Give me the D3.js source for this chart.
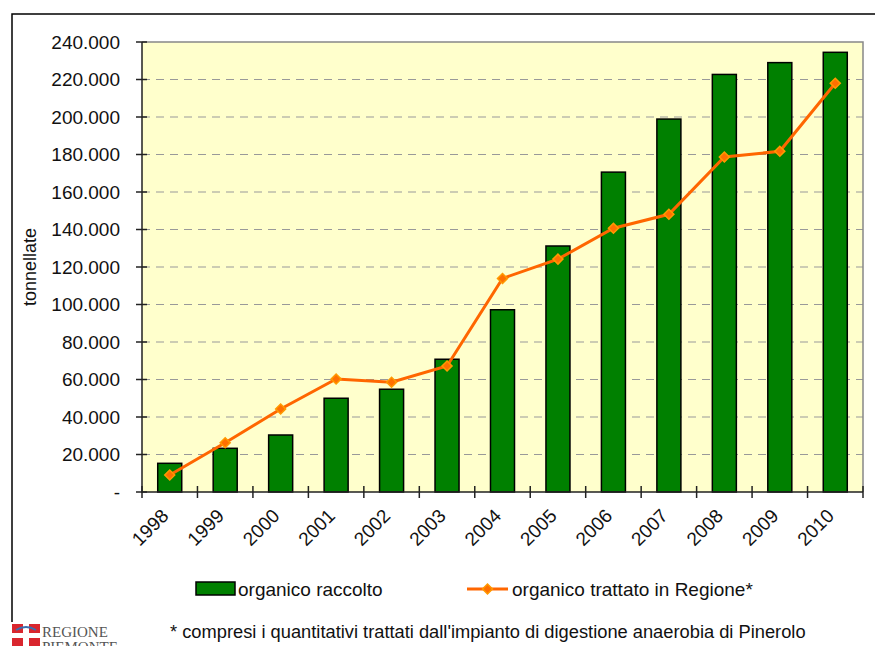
<!DOCTYPE html>
<html>
<head>
<meta charset="utf-8">
<script src="https://cdn.jsdelivr.net/npm/d3@7"></script>
<style>
  body { margin: 0; background: #fff; }
  svg { display: block; font-family: "Liberation Sans", Arial, sans-serif; }
</style>
</head>
<body>
<svg id="chart" width="875" height="646"></svg>
<script>
var years = ["1998", "1999", "2000", "2001", "2002", "2003", "2004", "2005", "2006", "2007", "2008", "2009", "2010"];
var raccolto = [15300, 23300, 30400, 50000, 54800, 70800, 97200, 131200, 170600, 198900, 222700, 229000, 234500];
var trattato = [9100, 26300, 44300, 60300, 58500, 67200, 113900, 124200, 140700, 148100, 178700, 181700, 218000];
var yTicks = [0, 20000, 40000, 60000, 80000, 100000, 120000, 140000, 160000, 180000, 200000, 220000, 240000];

var plotLeft = 142, plotRight = 863, plotTop = 42, plotBottom = 492;

var svg = d3.select("#chart");

var itLocale = d3.formatLocale({ decimal: ",", thousands: ".", grouping: [3], currency: ["", " €"] });
var fmt = itLocale.format(",");

var x = d3.scaleBand()
    .domain(years)
    .range([plotLeft, plotRight])
    .paddingInner(0.567)
    .paddingOuter(0.567 / 2);

var xStep = d3.scaleBand()
    .domain(years)
    .range([plotLeft, plotRight]);

var y = d3.scaleLinear()
    .domain([0, 240000])
    .range([plotBottom, plotTop]);

// outer frame (bottom edge falls outside the picture)
svg.append("rect")
    .attr("x", 12).attr("y", 14)
    .attr("width", 900).attr("height", 700)
    .attr("fill", "none")
    .attr("stroke", "#000")
    .attr("stroke-width", 1.5);

// plot area
svg.append("rect")
    .attr("x", plotLeft).attr("y", plotTop)
    .attr("width", plotRight - plotLeft).attr("height", plotBottom - plotTop)
    .attr("fill", "#ffffcc");

// grid
svg.append("g")
    .selectAll("line")
    .data(yTicks.filter(d => d > 0 && d < 240000))
    .enter()
    .append("line")
    .attr("x1", plotLeft).attr("x2", plotRight)
    .attr("y1", d => y(d)).attr("y2", d => y(d))
    .attr("stroke", "#999")
    .attr("stroke-width", 1.2)
    .attr("stroke-dasharray", "8,6");

// top and right border of plot area
svg.append("path")
    .attr("d", "M" + plotLeft + "," + plotTop + "H" + plotRight + "V" + plotBottom)
    .attr("fill", "none")
    .attr("stroke", "#888")
    .attr("stroke-width", 1.5);

// bars
svg.append("g")
    .selectAll("rect")
    .data(raccolto)
    .enter()
    .append("rect")
    .attr("x", (d, i) => x(years[i]))
    .attr("y", d => y(d))
    .attr("width", x.bandwidth())
    .attr("height", d => y(0) - y(d))
    .attr("fill", "#008000")
    .attr("stroke", "#000")
    .attr("stroke-width", 1.5);

// axes lines
svg.append("path")
    .attr("d", "M" + plotLeft + "," + plotTop + "V" + plotBottom + "H" + plotRight)
    .attr("fill", "none")
    .attr("stroke", "#222")
    .attr("stroke-width", 1.5);

// y ticks
var yg = svg.append("g");
yg.selectAll("line")
    .data(yTicks)
    .enter()
    .append("line")
    .attr("x1", plotLeft - 6).attr("x2", plotLeft + 5)
    .attr("y1", d => y(d)).attr("y2", d => y(d))
    .attr("stroke", "#222")
    .attr("stroke-width", 1.5);
yg.selectAll("text")
    .data(yTicks)
    .enter()
    .append("text")
    .attr("x", 120)
    .attr("y", d => y(d))
    .attr("dy", "0.35em")
    .attr("text-anchor", "end")
    .style("font-size", "19px")
    .style("fill", "#111")
    .text(d => d === 0 ? "-" : fmt(d));

// x ticks (band boundaries)
var xEdges = years.map(d => xStep(d)).concat([plotRight]);
svg.append("g")
    .selectAll("line")
    .data(xEdges)
    .enter()
    .append("line")
    .attr("x1", d => d).attr("x2", d => d)
    .attr("y1", plotBottom - 6).attr("y2", plotBottom + 6)
    .attr("stroke", "#222")
    .attr("stroke-width", 1.5);

// x labels
svg.append("g")
    .selectAll("text")
    .data(years)
    .enter()
    .append("text")
    .attr("transform", d => "translate(" + (x(d) + x.bandwidth() / 2) + "," + (plotBottom + 25) + ") rotate(-45)")
    .attr("text-anchor", "end")
    .style("font-size", "19px")
    .style("fill", "#111")
    .text(d => d);

// y title
svg.append("text")
    .attr("transform", "translate(36," + ((plotTop + plotBottom) / 2) + ") rotate(-90)")
    .attr("text-anchor", "middle")
    .style("font-size", "18px")
    .style("fill", "#111")
    .text("tonnellate");

// line
var line = d3.line()
    .x((d, i) => x(years[i]) + x.bandwidth() / 2)
    .y(d => y(d));

svg.append("path")
    .datum(trattato)
    .attr("d", line)
    .attr("fill", "none")
    .attr("stroke", "#ff6600")
    .attr("stroke-width", 3);

var marker = d3.symbol().type(d3.symbolSquare).size(50);

svg.append("g")
    .selectAll("path")
    .data(trattato)
    .enter()
    .append("path")
    .attr("d", marker)
    .attr("transform", (d, i) => "translate(" + (x(years[i]) + x.bandwidth() / 2) + "," + y(d) + ") rotate(45)")
    .attr("fill", "#ff7000")
    .attr("stroke", "#ff9900")
    .attr("stroke-width", 1.5);

// legend
var lg = svg.append("g");
lg.append("rect")
    .attr("x", 196).attr("y", 582)
    .attr("width", 39).attr("height", 13)
    .attr("fill", "#008000")
    .attr("stroke", "#000")
    .attr("stroke-width", 1.5);
lg.append("text")
    .attr("x", 238).attr("y", 589)
    .attr("dy", "0.35em")
    .style("font-size", "19px")
    .style("fill", "#111")
    .text("organico raccolto");
lg.append("line")
    .attr("x1", 467).attr("x2", 508)
    .attr("y1", 589).attr("y2", 589)
    .attr("stroke", "#ff6600")
    .attr("stroke-width", 3);
lg.append("path")
    .attr("transform", "translate(487.5,589) rotate(45)")
    .attr("d", marker)
    .attr("fill", "#ff7000")
    .attr("stroke", "#ff9900")
    .attr("stroke-width", 1.5);
lg.append("text")
    .attr("x", 512).attr("y", 589)
    .attr("dy", "0.35em")
    .style("font-size", "19px")
    .style("fill", "#111")
    .text("organico trattato in Regione*");

// footnote
svg.append("text")
    .attr("x", 170).attr("y", 632)
    .attr("dy", "0.35em")
    .style("font-size", "18.3px")
    .style("fill", "#111")
    .text("* compresi i quantitativi trattati dall'impianto di digestione anaerobia di Pinerolo");

// logo (its white background hides the frame below y=622)
var logo = svg.append("g");
logo.append("rect").attr("x", 0).attr("y", 622).attr("width", 120).attr("height", 24).attr("fill", "#fff");
logo.append("rect").attr("x", 12).attr("y", 624).attr("width", 28).attr("height", 22).attr("fill", "#d9262e");
logo.append("rect").attr("x", 23).attr("y", 624).attr("width", 6).attr("height", 22).attr("fill", "#fff");
logo.append("rect").attr("x", 12).attr("y", 633).attr("width", 28).attr("height", 5).attr("fill", "#fff");
logo.append("path").attr("d", "M16,630 Q26,624 36,630").attr("fill", "none").attr("stroke", "#3a6fb0").attr("stroke-width", 2);
logo.append("text")
    .attr("x", 42).attr("y", 637)
    .style("font-family", "'Liberation Serif', serif")
    .style("font-size", "15px")
    .style("fill", "#555")
    .text("REGIONE");
logo.append("text")
    .attr("x", 42).attr("y", 652)
    .style("font-family", "'Liberation Serif', serif")
    .style("font-size", "15px")
    .style("fill", "#555")
    .text("PIEMONTE");
</script>
</body>
</html>
